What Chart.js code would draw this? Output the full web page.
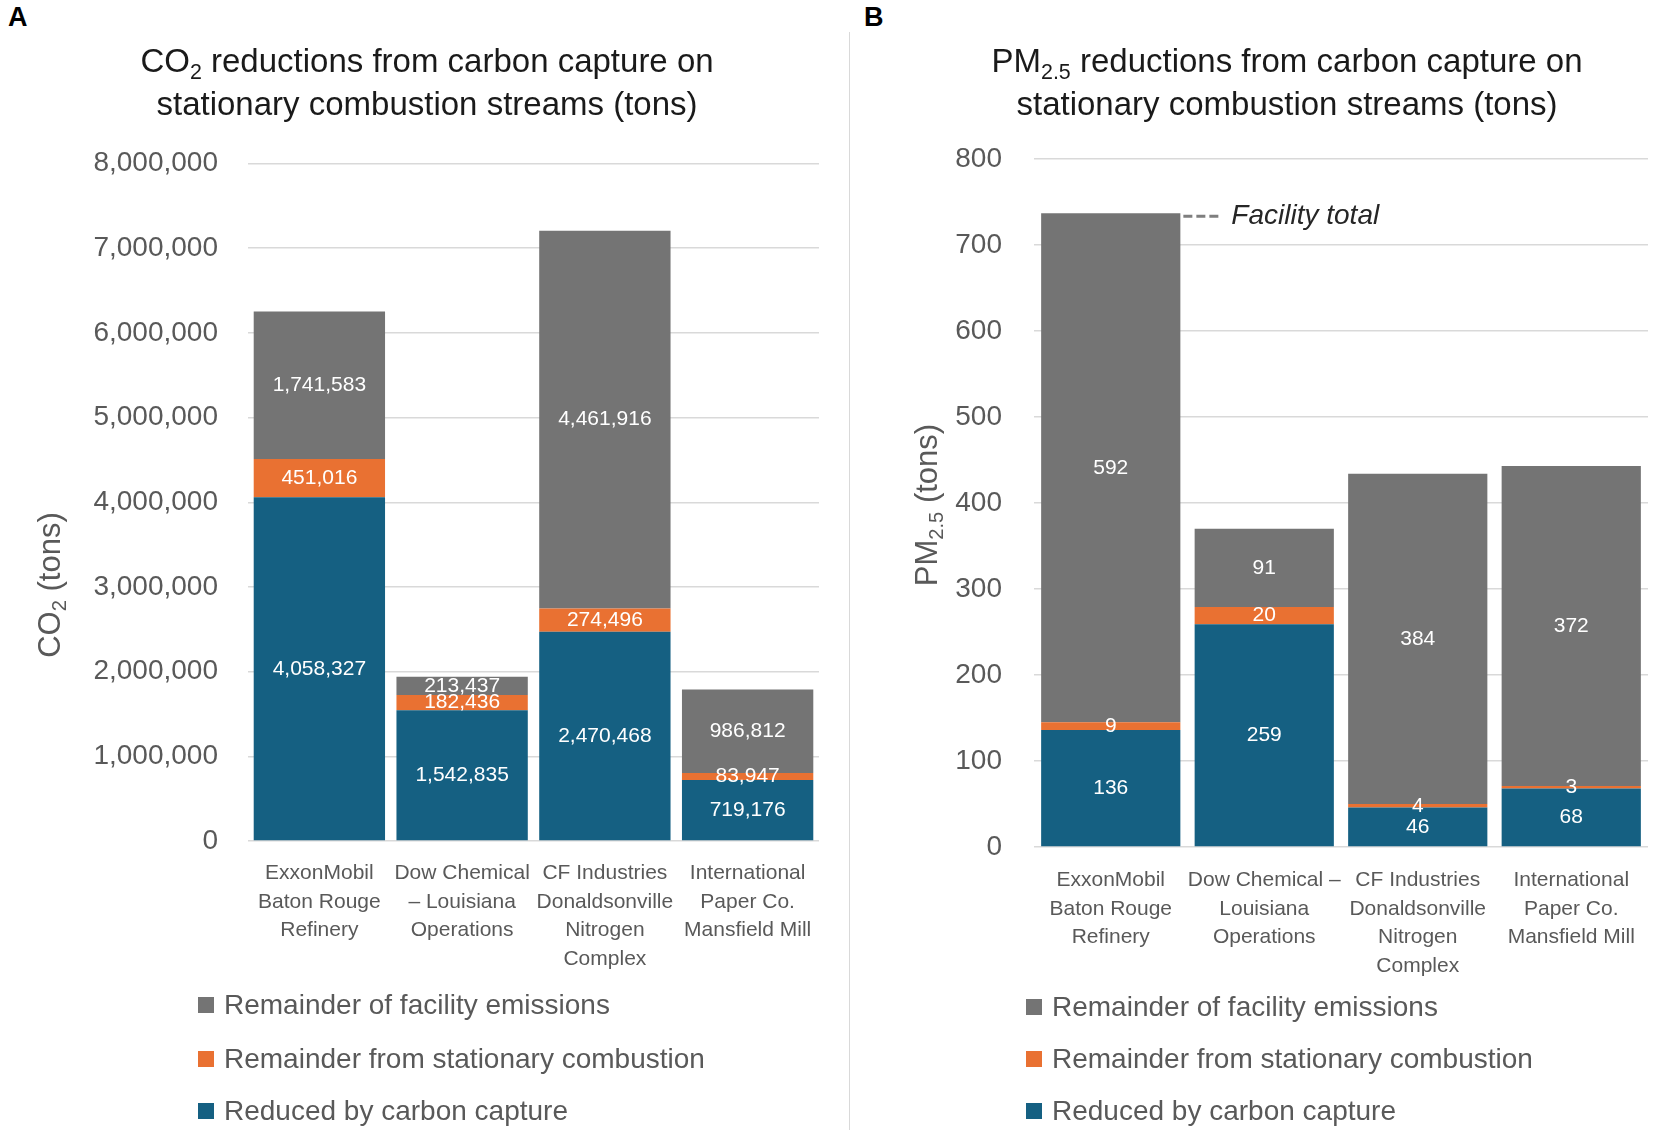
<!DOCTYPE html>
<html>
<head>
<meta charset="utf-8">
<script src="https://cdn.jsdelivr.net/npm/chart.js@4.4.1/dist/chart.umd.min.js"></script>
<style>
  body { margin: 0; background: #fff; width: 1655px; height: 1137px; position: relative; overflow: hidden;
         font-family: "Liberation Sans", Arial, sans-serif; }
  canvas { position: absolute; top: 0; }
  #co2Chart { left: 0; }
  #pmChart { left: 850px; }
  .tag { position: absolute; font-weight: bold; font-size: 27px; color: #000; line-height: 31px; }
  #sep { position: absolute; left: 849px; top: 32px; height: 1098px; border-left: 1.5px solid #d9d9d9; }
</style>
</head>
<body>
<div class="tag" style="left:8px;top:2px">A</div>
<div class="tag" style="left:864px;top:2px">B</div>
<div id="sep"></div>
<canvas id="co2Chart" width="849" height="1137"></canvas>
<canvas id="pmChart" width="805" height="1137"></canvas>
<script>
// ===== data =====
const co2Facilities = [
  ['ExxonMobil', 'Baton Rouge', 'Refinery'],
  ['Dow Chemical', '– Louisiana', 'Operations'],
  ['CF Industries', 'Donaldsonville', 'Nitrogen', 'Complex'],
  ['International', 'Paper Co.', 'Mansfield Mill']
];
const pmFacilities = [
  ['ExxonMobil', 'Baton Rouge', 'Refinery'],
  ['Dow Chemical –', 'Louisiana', 'Operations'],
  ['CF Industries', 'Donaldsonville', 'Nitrogen', 'Complex'],
  ['International', 'Paper Co.', 'Mansfield Mill']
];
const seriesNames = ['Reduced by carbon capture', 'Remainder from stationary combustion', 'Remainder of facility emissions'];
const seriesColors = ['#156082', '#E97132', '#747474'];

const co2Captured   = [4058327, 1542835, 2470468, 719176];
const co2Stationary = [451016, 182436, 274496, 83947];
const co2Remainder  = [1741583, 213437, 4461916, 986812];

const pmCaptured   = [136, 259, 46, 68];
const pmStationary = [9, 20, 4, 3];
const pmRemainder  = [592, 91, 384, 372];

const co2Axis = { max: 8000000, step: 1000000 };
const pmAxis  = { max: 800, step: 100 };

const FONT = '"Liberation Sans", Arial, sans-serif';
const GREY_TEXT = '#595959';

// draw text runs with subscripts, centred on x
function drawRich(ctx, parts, x, y, size, color) {
  let total = 0;
  parts.forEach(p => {
    ctx.font = (p.sub ? size * 0.65 : size) + 'px ' + FONT;
    p.w = ctx.measureText(p.t).width;
    total += p.w;
  });
  let cx = x - total / 2;
  ctx.fillStyle = color;
  ctx.textAlign = 'left';
  ctx.textBaseline = 'middle';
  parts.forEach(p => {
    ctx.font = (p.sub ? size * 0.65 : size) + 'px ' + FONT;
    ctx.fillText(p.t, cx, y + (p.sub ? size * 0.3 : 0));
    cx += p.w;
  });
}

const decor = {
  id: 'decor',
  afterDatasetsDraw(chart, args, o) {
    const ctx = chart.ctx;
    ctx.save();
    // segment labels
    ctx.font = '21px ' + FONT;
    ctx.fillStyle = '#fff';
    ctx.textAlign = 'center';
    ctx.textBaseline = 'middle';
    chart.data.datasets.forEach((ds, i) => {
      chart.getDatasetMeta(i).data.forEach((bar, j) => {
        const p = bar.getProps(['x', 'y', 'base'], true);
        ctx.fillText(ds.data[j].toLocaleString('en-US'), p.x, (p.y + p.base) / 2);
      });
    });
    ctx.restore();
  },
  afterDraw(chart, args, o) {
    const ctx = chart.ctx;
    ctx.save();
    // title
    o.title.forEach((line, k) => drawRich(ctx, line, o.titleX, o.titleY[k], 33, '#1a1a1a'));
    // y axis title
    ctx.save();
    ctx.translate(o.yTitleX, o.yTitleY);
    ctx.rotate(-Math.PI / 2);
    drawRich(ctx, o.yTitle, 0, 0, 31, GREY_TEXT);
    ctx.restore();
    // legend, top series first
    const n = chart.data.datasets.length;
    for (let k = 0; k < n; k++) {
      const ds = chart.data.datasets[n - 1 - k];
      const y = o.legendY[k];
      ctx.fillStyle = ds.backgroundColor;
      ctx.fillRect(o.legendX, y - 8, 16, 16);
      ctx.fillStyle = GREY_TEXT;
      ctx.font = '28px ' + FONT;
      ctx.textAlign = 'left';
      ctx.textBaseline = 'middle';
      ctx.fillText(ds.label, o.legendX + 26, y + 1);
    }
    // facility total note
    if (o.note) {
      const bar = chart.getDatasetMeta(n - 1).data[0];
      const p = bar.getProps(['x', 'y', 'width'], true);
      const right = p.x + p.width / 2;
      ctx.strokeStyle = '#7f7f7f';
      ctx.lineWidth = 3;
      ctx.setLineDash([9, 4]);
      ctx.beginPath();
      ctx.moveTo(right + 3, p.y + 3);
      ctx.lineTo(right + 40, p.y + 3);
      ctx.stroke();
      ctx.setLineDash([]);
      ctx.fillStyle = '#262626';
      ctx.font = 'italic 28px ' + FONT;
      ctx.textBaseline = 'middle';
      ctx.fillText(o.note, right + 51, p.y + 3);
    }
    ctx.restore();
  }
};

function makeChart(id, labels, series, axis, geo, deco) {
  return new Chart(document.getElementById(id), {
    type: 'bar',
    data: {
      labels: labels,
      datasets: series.map((d, i) => ({
        label: seriesNames[i],
        data: d,
        backgroundColor: seriesColors[i],
        borderWidth: 0,
        barPercentage: geo.barPct,
        categoryPercentage: 1
      }))
    },
    options: {
      responsive: false,
      animation: false,
      layout: { padding: geo.padding },
      plugins: { legend: { display: false }, tooltip: { enabled: false }, decor: deco },
      scales: {
        x: {
          stacked: true,
          grid: { display: false },
          border: { display: false },
          ticks: { color: GREY_TEXT, font: { family: FONT, size: 21, lineHeight: 1.357 },
                   padding: geo.xPad, maxRotation: 0, autoSkip: false },
          afterFit(s) { s.height = 140; s.paddingLeft = 0; s.paddingRight = 0; }
        },
        y: {
          stacked: true,
          min: 0,
          max: axis.max,
          grid: { color: '#d9d9d9', lineWidth: 1.5, drawTicks: false },
          border: { display: false },
          ticks: { stepSize: axis.step, color: GREY_TEXT, font: { family: FONT, size: 28 }, padding: geo.yPad },
          afterFit(s) { s.width = geo.yWidth; s.paddingTop = 0; s.paddingBottom = 0; }
        }
      }
    },
    plugins: [decor]
  });
}

// ===== CO2 chart =====
makeChart('co2Chart', co2Facilities, [co2Captured, co2Stationary, co2Remainder], co2Axis,
  { barPct: 0.92, padding: { top: 163.5, right: 30, bottom: 156, left: 0 }, yWidth: 248, yPad: 30, xPad: 10 },
  {
    title: [[{ t: 'CO' }, { t: '2', sub: true }, { t: ' reductions from carbon capture on' }],
            [{ t: 'stationary combustion streams (tons)' }]],
    titleX: 427, titleY: [63, 106],
    yTitle: [{ t: 'CO' }, { t: '2', sub: true }, { t: ' (tons)' }],
    yTitleX: 51, yTitleY: 585,
    legendX: 198, legendY: [1005, 1059, 1111]
  });

// ===== PM2.5 chart =====
makeChart('pmChart', pmFacilities, [pmCaptured, pmStationary, pmRemainder], pmAxis,
  { barPct: 0.907, padding: { top: 159, right: 7, bottom: 150, left: 0 }, yWidth: 184, yPad: 32, xPad: 11 },
  {
    title: [[{ t: 'PM' }, { t: '2.5', sub: true }, { t: ' reductions from carbon capture on' }],
            [{ t: 'stationary combustion streams (tons)' }]],
    titleX: 437, titleY: [63, 106],
    yTitle: [{ t: 'PM' }, { t: '2.5', sub: true }, { t: ' (tons)' }],
    yTitleX: 78, yTitleY: 505,
    legendX: 176, legendY: [1007, 1059, 1111],
    note: 'Facility total'
  });
</script>
</body>
</html>
